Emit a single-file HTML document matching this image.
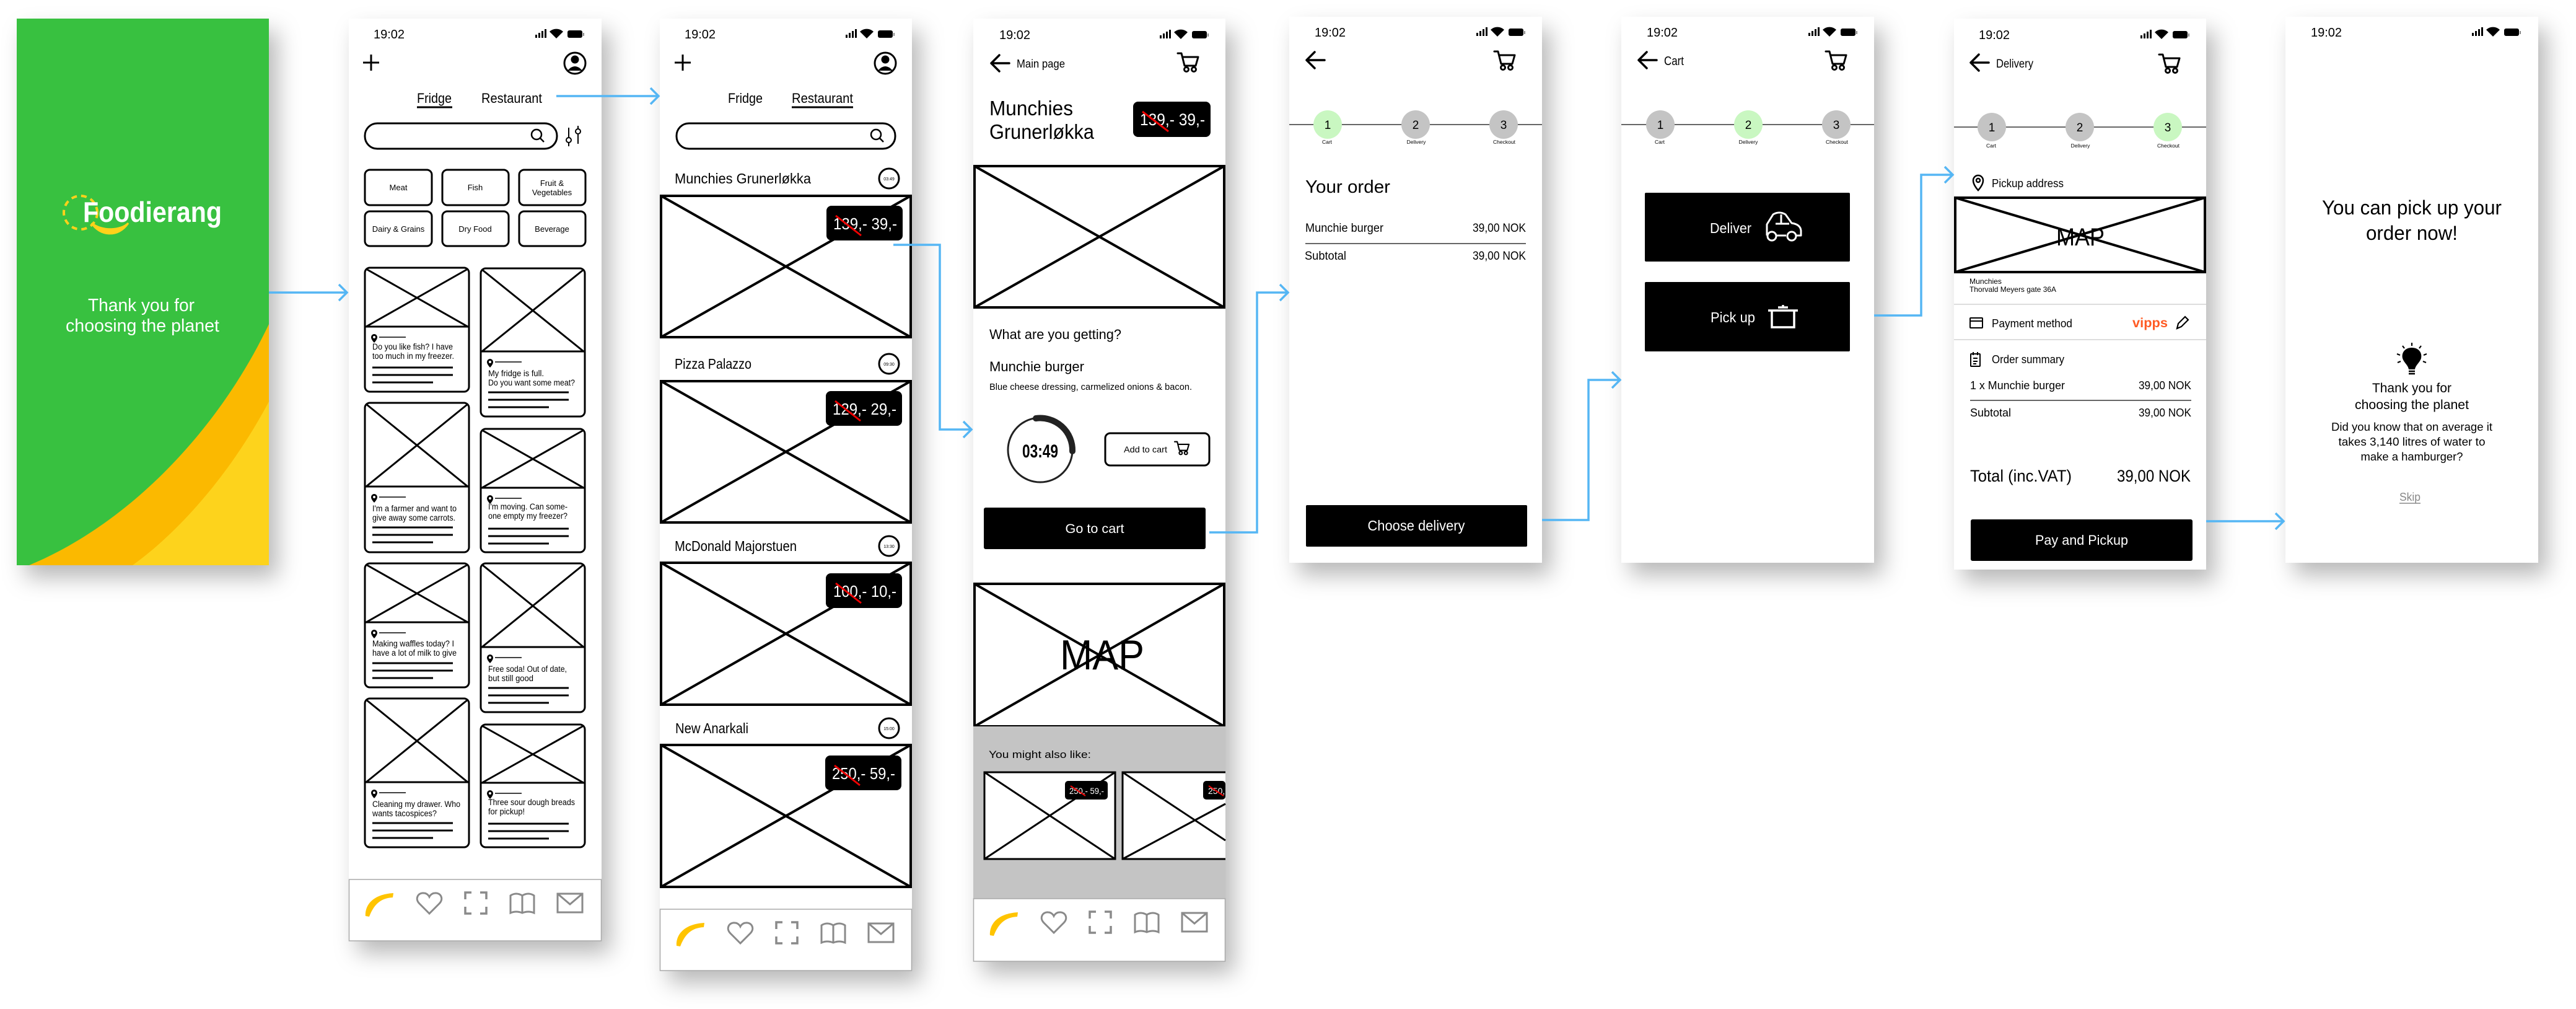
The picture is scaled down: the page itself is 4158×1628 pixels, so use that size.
<!DOCTYPE html>
<html><head><meta charset="utf-8"><style>
html,body{margin:0;padding:0;background:#fff;}
svg{display:block;}
text{font-family:"Liberation Sans",sans-serif;}
</style></head><body>
<svg width="4158" height="1628" viewBox="0 0 4158 1628" xmlns="http://www.w3.org/2000/svg">
<defs>
<filter id="sh" x="-20%" y="-10%" width="150%" height="130%"><feDropShadow dx="14" dy="20" stdDeviation="18" flood-color="#000" flood-opacity="0.28"/></filter>
<g id="stat">
 <rect x="0" y="1" width="3" height="5" fill="#000"/><rect x="5" y="-2" width="3" height="8" fill="#000"/><rect x="10" y="-5" width="3" height="11" fill="#000"/><rect x="15" y="-8" width="3" height="14" fill="#000"/>
 <path d="M34 7 L23 -4 A16 16 0 0 1 45 -4 Z" fill="#000"/>
 <rect x="52" y="-6" width="24" height="12" rx="3" fill="#000"/><rect x="77" y="-2" width="2" height="5" fill="#888"/>
</g>
<g id="cart" fill="none" stroke="#000" stroke-width="3" stroke-linejoin="round" stroke-linecap="round">
 <path d="M0 1 L6 1 L11 21 L29 21 L33 7 L8 7"/><circle cx="14" cy="27" r="3.5"/><circle cx="26" cy="27" r="3.5"/>
</g>
<g id="back" fill="none" stroke="#000" stroke-width="3.5" stroke-linecap="round" stroke-linejoin="round">
 <path d="M30 0 L1 0 M14 -13 L1 0 L14 13"/>
</g>
<g id="nav">
 <path d="M27 59 C26 42 38 24 72 22 L71 29 C50 30 40 42 33 60 Z" fill="#FFC400"/>
 <path d="M130 55 L114 39 C106 31 112 21 121 22 C126 22 129 26 130 28 C131 26 134 22 139 22 C148 21 154 31 146 39 Z" fill="none" stroke="#8a8a8a" stroke-width="3"/>
 <path d="M188 32 V21 H198 M212 21 H222 V32 M222 44 V55 H212 M198 55 H188 V44" fill="none" stroke="#8a8a8a" stroke-width="3.5"/>
 <path d="M261 26 Q270 20 280 26 Q290 20 299 26 V54 Q290 50 280 54 Q270 50 261 54 Z M280 26 V54" fill="none" stroke="#8a8a8a" stroke-width="3"/>
 <rect x="337" y="23" width="40" height="30" fill="none" stroke="#8a8a8a" stroke-width="3"/><path d="M337 23 L357 40 L377 23" fill="none" stroke="#8a8a8a" stroke-width="3"/>
</g>
<g id="pin"><path d="M0 -6 a5 5 0 0 1 5 5 c0 4 -5 9 -5 9 c0 0 -5 -5 -5 -9 a5 5 0 0 1 5 -5 z" fill="#000"/><circle cx="0" cy="-1" r="2" fill="#fff"/></g>
</defs>

<!-- ===== Splash ===== -->
<g filter="url(#sh)"><rect x="27" y="30" width="407" height="882" fill="#38C13F"/></g>
<path d="M434 523 C360 680 220 840 47 912 L434 912 Z" fill="#FBB900"/>
<path d="M434 648 C380 750 300 850 214 912 L434 912 Z" fill="#FDD31C"/>
<circle cx="130" cy="343" r="27" fill="none" stroke="#FFD21A" stroke-width="4" stroke-dasharray="9 7"/>
<text x="134" y="358" font-size="46" font-weight="bold" fill="#fff" textLength="224" lengthAdjust="spacingAndGlyphs">Foodierang</text>
<path d="M148 360 C160 380 190 385 207 360 C195 372 165 374 148 360 Z" fill="#FFD21A" stroke="#FFD21A" stroke-width="3"/>
<text x="228" y="502" font-size="29" fill="#fff" text-anchor="middle" textLength="172" lengthAdjust="spacingAndGlyphs">Thank you for</text>
<text x="230" y="535" font-size="29" fill="#fff" text-anchor="middle" textLength="248" lengthAdjust="spacingAndGlyphs">choosing the planet</text>

<!-- ===== Screen 2 Fridge ===== -->
<g filter="url(#sh)"><rect x="563" y="30" width="408" height="1488" fill="#fff"/></g>
<text x="603" y="62" font-size="20">19:02</text>
<use href="#stat" x="864" y="55"/>
<path d="M599 88 V114 M586 101 H612" stroke="#000" stroke-width="3"/>
<circle cx="928" cy="102" r="17" fill="none" stroke="#000" stroke-width="3"/><circle cx="928" cy="96" r="6.5" fill="#000"/><path d="M916 114 Q928 100 940 114 Z" fill="#000"/>
<text x="673" y="166" font-size="22" textLength="56" lengthAdjust="spacingAndGlyphs">Fridge</text>
<line x1="673" y1="173" x2="730" y2="173" stroke="#000" stroke-width="3"/>
<text x="777" y="166" font-size="22" textLength="98" lengthAdjust="spacingAndGlyphs">Restaurant</text>
<rect x="589" y="199" width="310" height="41" rx="20" fill="none" stroke="#000" stroke-width="3"/>
<circle cx="866" cy="217" r="8" fill="none" stroke="#000" stroke-width="2.5"/><line x1="872" y1="223" x2="878" y2="229" stroke="#000" stroke-width="2.5"/>
<path d="M918 206 V236 M933 203 V232" stroke="#000" stroke-width="2"/><circle cx="918" cy="226" r="4" fill="#fff" stroke="#000" stroke-width="2"/><circle cx="933" cy="212" r="4" fill="#fff" stroke="#000" stroke-width="2"/>
<g fill="none" stroke="#000" stroke-width="3">
<rect x="589" y="274" width="108" height="57" rx="8"/><rect x="714" y="274" width="107" height="57" rx="8"/><rect x="838" y="274" width="107" height="57" rx="8"/>
<rect x="589" y="341" width="108" height="56" rx="8"/><rect x="714" y="341" width="107" height="56" rx="8"/><rect x="838" y="341" width="107" height="56" rx="8"/>
</g>
<g font-size="13" text-anchor="middle">
<text x="643" y="307">Meat</text><text x="767" y="307">Fish</text><text x="891" y="300">Fruit &amp;</text><text x="891" y="315">Vegetables</text>
<text x="643" y="374">Dairy &amp; Grains</text><text x="767" y="374">Dry Food</text><text x="891" y="374">Beverage</text>
</g>
<!-- cards -->
<g fill="none" stroke="#000" stroke-width="3">
<!-- col1 -->
<rect x="589" y="432" width="168" height="200" rx="8"/><path d="M589 527 H757 M591 434 L755 527 M755 434 L591 527"/>
<rect x="589" y="650" width="168" height="241" rx="8"/><path d="M589 785 H757 M591 652 L755 785 M755 652 L591 785"/>
<rect x="589" y="909" width="168" height="200" rx="8"/><path d="M589 1004 H757 M591 911 L755 1004 M755 911 L591 1004"/>
<rect x="589" y="1127" width="168" height="240" rx="8"/><path d="M589 1262 H757 M591 1129 L755 1262 M755 1129 L591 1262"/>
<!-- col2 -->
<rect x="776" y="433" width="168" height="239" rx="8"/><path d="M776 567 H944 M778 435 L942 567 M942 435 L778 567"/>
<rect x="776" y="692" width="168" height="199" rx="8"/><path d="M776 787 H944 M778 694 L942 787 M942 694 L778 787"/>
<rect x="776" y="909" width="168" height="240" rx="8"/><path d="M776 1044 H944 M778 911 L942 1044 M942 911 L778 1044"/>
<rect x="776" y="1169" width="168" height="198" rx="8"/><path d="M776 1263 H944 M778 1171 L942 1263 M942 1171 L778 1263"/>
</g>
<g stroke="#000" stroke-width="3">
<path d="M601 593 H731 M601 605 H731 M601 617 H699"/>
<path d="M601 851 H731 M601 863 H731 M601 875 H699"/>
<path d="M601 1070 H731 M601 1082 H731 M601 1094 H699"/>
<path d="M601 1328 H731 M601 1340 H731 M601 1352 H699"/>
<path d="M788 633 H918 M788 645 H918 M788 657 H886"/>
<path d="M788 853 H918 M788 865 H918 M788 877 H886"/>
<path d="M788 1110 H918 M788 1122 H918 M788 1134 H886"/>
<path d="M788 1329 H918 M788 1341 H918 M788 1353 H886"/>
</g>
<g stroke="#000" stroke-width="1.5">
<path d="M612 544 H655 M612 802 H655 M612 1021 H655 M612 1279 H655 M799 584 H842 M799 804 H842 M799 1061 H842 M799 1280 H842"/>
</g>
<use href="#pin" x="604" y="545"/><use href="#pin" x="604" y="803"/><use href="#pin" x="604" y="1022"/><use href="#pin" x="604" y="1280"/>
<use href="#pin" x="791" y="585"/><use href="#pin" x="791" y="805"/><use href="#pin" x="791" y="1062"/><use href="#pin" x="791" y="1281"/>
<g font-size="13.5">
<text x="601" y="564" textLength="130" lengthAdjust="spacingAndGlyphs">Do you like fish? I have</text><text x="601" y="579" textLength="132" lengthAdjust="spacingAndGlyphs">too much in my freezer.</text>
<text x="601" y="825" textLength="136" lengthAdjust="spacingAndGlyphs">I'm a farmer and want to</text><text x="601" y="840" textLength="134" lengthAdjust="spacingAndGlyphs">give away some carrots.</text>
<text x="601" y="1043" textLength="132" lengthAdjust="spacingAndGlyphs">Making waffles today? I</text><text x="601" y="1058" textLength="136" lengthAdjust="spacingAndGlyphs">have a lot of milk to give</text>
<text x="601" y="1302" textLength="142" lengthAdjust="spacingAndGlyphs">Cleaning my drawer. Who</text><text x="601" y="1317" textLength="104" lengthAdjust="spacingAndGlyphs">wants tacospices?</text>
<text x="788" y="607" textLength="90" lengthAdjust="spacingAndGlyphs">My fridge is full.</text><text x="788" y="622" textLength="140" lengthAdjust="spacingAndGlyphs">Do you want some meat?</text>
<text x="788" y="822" textLength="128" lengthAdjust="spacingAndGlyphs">I'm moving. Can some-</text><text x="788" y="837" textLength="128" lengthAdjust="spacingAndGlyphs">one empty my freezer?</text>
<text x="788" y="1084" textLength="127" lengthAdjust="spacingAndGlyphs">Free soda! Out of date,</text><text x="788" y="1099" textLength="73" lengthAdjust="spacingAndGlyphs">but still good</text>
<text x="788" y="1299" textLength="140" lengthAdjust="spacingAndGlyphs">Three sour dough breads</text><text x="788" y="1314" textLength="59" lengthAdjust="spacingAndGlyphs">for pickup!</text>
</g>
<rect x="563.5" y="1419" width="407" height="99" fill="#fff" stroke="#aaa" stroke-width="1.5"/>
<use href="#nav" x="563" y="1419"/>

<!-- ===== Screen 3 Restaurant ===== -->
<g filter="url(#sh)"><rect x="1065" y="30" width="407" height="1536" fill="#fff"/></g>
<text x="1105" y="62" font-size="20">19:02</text>
<use href="#stat" x="1365" y="55"/>
<path d="M1102 88 V114 M1089 101 H1115" stroke="#000" stroke-width="3"/>
<circle cx="1429" cy="102" r="17" fill="none" stroke="#000" stroke-width="3"/><circle cx="1429" cy="96" r="6.5" fill="#000"/><path d="M1417 114 Q1429 100 1441 114 Z" fill="#000"/>
<text x="1175" y="166" font-size="22" textLength="56" lengthAdjust="spacingAndGlyphs">Fridge</text>
<text x="1278" y="166" font-size="22" textLength="99" lengthAdjust="spacingAndGlyphs">Restaurant</text>
<line x1="1278" y1="173" x2="1377" y2="173" stroke="#000" stroke-width="3"/>
<rect x="1092" y="199" width="353" height="41" rx="20" fill="none" stroke="#000" stroke-width="3"/>
<circle cx="1414" cy="217" r="8" fill="none" stroke="#000" stroke-width="2.5"/><line x1="1420" y1="223" x2="1426" y2="229" stroke="#000" stroke-width="2.5"/>
<g font-size="23">
<text x="1089" y="296" textLength="220" lengthAdjust="spacingAndGlyphs">Munchies Grunerløkka</text>
<text x="1089" y="595" textLength="124" lengthAdjust="spacingAndGlyphs">Pizza Palazzo</text>
<text x="1089" y="889" textLength="197" lengthAdjust="spacingAndGlyphs">McDonald Majorstuen</text>
<text x="1090" y="1183" textLength="118" lengthAdjust="spacingAndGlyphs">New Anarkali</text>
</g>
<g fill="none" stroke="#000" stroke-width="3">
<circle cx="1435" cy="288" r="16"/><circle cx="1435" cy="587" r="16"/><circle cx="1435" cy="881" r="16"/><circle cx="1435" cy="1175" r="16"/>
</g>
<g font-size="7" text-anchor="middle"><text x="1435" y="291">03:49</text><text x="1435" y="590">09:30</text><text x="1435" y="884">13:30</text><text x="1435" y="1178">15:00</text></g>
<g fill="none" stroke="#000" stroke-width="4">
<rect x="1067" y="316" width="403" height="228"/><path d="M1067 316 L1470 544 M1470 316 L1067 544"/>
<rect x="1067" y="615" width="403" height="228"/><path d="M1067 615 L1470 843 M1470 615 L1067 843"/>
<rect x="1067" y="908" width="403" height="229"/><path d="M1067 908 L1470 1137 M1470 908 L1067 1137"/>
<rect x="1067" y="1202" width="403" height="229"/><path d="M1067 1202 L1470 1431 M1470 1202 L1067 1431"/>
</g>
<g>
<rect x="1334" y="332" width="123" height="56" rx="8" fill="#000"/><text x="1345" y="370" font-size="26" fill="#fff" textLength="103" lengthAdjust="spacingAndGlyphs">139,- 39,-</text><line x1="1349" y1="348" x2="1390" y2="380" stroke="#e00" stroke-width="3"/>
<rect x="1333" y="631" width="123" height="56" rx="8" fill="#000"/><text x="1344" y="669" font-size="26" fill="#fff" textLength="103" lengthAdjust="spacingAndGlyphs">129,- 29,-</text><line x1="1348" y1="647" x2="1389" y2="679" stroke="#e00" stroke-width="3"/>
<rect x="1333" y="925" width="123" height="56" rx="8" fill="#000"/><text x="1345" y="963" font-size="26" fill="#fff" textLength="102" lengthAdjust="spacingAndGlyphs">100,- 10,-</text><line x1="1349" y1="941" x2="1390" y2="973" stroke="#e00" stroke-width="3"/>
<rect x="1332" y="1219" width="123" height="56" rx="8" fill="#000"/><text x="1343" y="1257" font-size="26" fill="#fff" textLength="102" lengthAdjust="spacingAndGlyphs">250,- 59,-</text><line x1="1347" y1="1235" x2="1388" y2="1267" stroke="#e00" stroke-width="3"/>
</g>
<rect x="1065.5" y="1467" width="406" height="99" fill="#fff" stroke="#aaa" stroke-width="1.5"/>
<use href="#nav" x="1065" y="1467"/>

<!-- ===== Screen 4 detail ===== -->
<g filter="url(#sh)"><rect x="1571" y="30" width="407" height="1521" fill="#fff"/></g>
<text x="1613" y="63" font-size="20">19:02</text>
<use href="#stat" x="1872" y="56"/>
<use href="#back" x="1599" y="102"/>
<text x="1641" y="109" font-size="18" textLength="78" lengthAdjust="spacingAndGlyphs">Main page</text>
<use href="#cart" x="1901" y="85"/>
<text x="1597" y="186" font-size="33" font-weight="500" textLength="135" lengthAdjust="spacingAndGlyphs">Munchies</text>
<text x="1597" y="224" font-size="33" textLength="169" lengthAdjust="spacingAndGlyphs">Grunerløkka</text>
<rect x="1829" y="164" width="125" height="57" rx="8" fill="#000"/>
<text x="1840" y="202" font-size="27" fill="#fff" textLength="105" lengthAdjust="spacingAndGlyphs">139,- 39,-</text>
<line x1="1844" y1="180" x2="1886" y2="212" stroke="#e00" stroke-width="3"/>
<g fill="none" stroke="#000" stroke-width="4"><rect x="1573" y="268" width="403" height="228"/><path d="M1573 268 L1976 496 M1976 268 L1573 496"/></g>
<text x="1597" y="547" font-size="22" textLength="213" lengthAdjust="spacingAndGlyphs">What are you getting?</text>
<text x="1597" y="599" font-size="22" textLength="153" lengthAdjust="spacingAndGlyphs">Munchie burger</text>
<text x="1597" y="629" font-size="15" textLength="327" lengthAdjust="spacingAndGlyphs">Blue cheese dressing, carmelized onions &amp; bacon.</text>
<circle cx="1679" cy="726" r="52" fill="none" stroke="#222" stroke-width="3"/>
<path d="M1672 675 A52 52 0 0 1 1731 728" fill="none" stroke="#222" stroke-width="10" stroke-linecap="round"/>
<text x="1679" y="738" font-size="30" font-weight="bold" text-anchor="middle" textLength="58" lengthAdjust="spacingAndGlyphs">03:49</text>
<rect x="1784" y="699" width="168" height="52" rx="8" fill="none" stroke="#000" stroke-width="3"/>
<text x="1814" y="730" font-size="14" textLength="70" lengthAdjust="spacingAndGlyphs">Add to cart</text>
<g transform="translate(1896 712) scale(0.7)"><use href="#cart"/></g>
<rect x="1588" y="819" width="358" height="67" rx="3" fill="#000"/>
<text x="1767" y="860" font-size="21" fill="#fff" text-anchor="middle" textLength="95" lengthAdjust="spacingAndGlyphs">Go to cart</text>
<g fill="none" stroke="#000" stroke-width="4"><rect x="1573" y="942" width="403" height="230"/><path d="M1573 942 L1976 1172 M1976 942 L1573 1172"/></g>
<text x="1779" y="1080" font-size="68" text-anchor="middle" textLength="136" lengthAdjust="spacingAndGlyphs">MAP</text>
<rect x="1571" y="1172" width="407" height="278" fill="#c4c4c4"/>
<text x="1596" y="1223" font-size="17" textLength="165" lengthAdjust="spacingAndGlyphs">You might also like:</text>
<g fill="#fff" stroke="#000" stroke-width="3">
<rect x="1589" y="1246" width="211" height="140"/><path d="M1589 1246 L1800 1386 M1800 1246 L1589 1386" fill="none"/>
<path d="M1978 1246 H1812 V1386 H1978" /><path d="M1812 1246 L1978 1356 M1978 1297 L1812 1386" fill="none"/>
</g>
<rect x="1719" y="1260" width="69" height="30" rx="5" fill="#000"/>
<text x="1726" y="1281" font-size="14" fill="#fff" textLength="56" lengthAdjust="spacingAndGlyphs">250,- 59,-</text>
<line x1="1728" y1="1268" x2="1752" y2="1284" stroke="#e00" stroke-width="2"/>
<rect x="1942" y="1260" width="36" height="30" rx="5" fill="#000"/>
<text x="1950" y="1281" font-size="14" fill="#fff">250,</text>
<line x1="1951" y1="1268" x2="1975" y2="1284" stroke="#e00" stroke-width="2"/>
<rect x="1571.5" y="1450" width="406" height="101" fill="#fff" stroke="#aaa" stroke-width="1.5"/>
<use href="#nav" x="1571" y="1450"/>

<!-- ===== Screen 5 Cart ===== -->
<g filter="url(#sh)"><rect x="2081" y="27" width="408" height="881" fill="#fff"/></g>
<text x="2122" y="59" font-size="20">19:02</text>
<use href="#stat" x="2383" y="52"/>
<use href="#back" x="2108" y="97"/>
<use href="#cart" x="2412" y="82"/>
<line x1="2081" y1="201" x2="2489" y2="201" stroke="#333" stroke-width="1.5"/>
<circle cx="2143" cy="201" r="23" fill="#C9F7C1"/><circle cx="2285" cy="201" r="23" fill="#c4c4c4"/><circle cx="2427" cy="201" r="23" fill="#c4c4c4"/>
<g font-size="19" text-anchor="middle"><text x="2143" y="208">1</text><text x="2285" y="208">2</text><text x="2427" y="208">3</text></g>
<g font-size="8.5" text-anchor="middle"><text x="2142" y="232">Cart</text><text x="2286" y="232">Delivery</text><text x="2428" y="232">Checkout</text></g>
<text x="2107" y="311" font-size="29" textLength="137" lengthAdjust="spacingAndGlyphs">Your order</text>
<text x="2107" y="374" font-size="19" textLength="126" lengthAdjust="spacingAndGlyphs">Munchie burger</text>
<text x="2463" y="374" font-size="19" text-anchor="end" textLength="86" lengthAdjust="spacingAndGlyphs">39,00 NOK</text>
<line x1="2107" y1="393" x2="2463" y2="393" stroke="#333" stroke-width="1.5"/>
<text x="2106" y="419" font-size="19" textLength="67" lengthAdjust="spacingAndGlyphs">Subtotal</text>
<text x="2463" y="419" font-size="19" text-anchor="end" textLength="86" lengthAdjust="spacingAndGlyphs">39,00 NOK</text>
<rect x="2108" y="815" width="357" height="67" rx="2" fill="#000"/>
<text x="2286" y="856" font-size="23" fill="#fff" text-anchor="middle" textLength="157" lengthAdjust="spacingAndGlyphs">Choose delivery</text>

<!-- ===== Screen 6 Delivery ===== -->
<g filter="url(#sh)"><rect x="2617" y="27" width="408" height="881" fill="#fff"/></g>
<text x="2658" y="59" font-size="20">19:02</text>
<use href="#stat" x="2919" y="52"/>
<use href="#back" x="2644" y="97"/>
<text x="2686" y="105" font-size="20" textLength="32" lengthAdjust="spacingAndGlyphs">Cart</text>
<use href="#cart" x="2947" y="82"/>
<line x1="2617" y1="201" x2="3025" y2="201" stroke="#333" stroke-width="1.5"/>
<circle cx="2680" cy="201" r="23" fill="#c4c4c4"/><circle cx="2822" cy="201" r="23" fill="#C9F7C1"/><circle cx="2964" cy="201" r="23" fill="#c4c4c4"/>
<g font-size="19" text-anchor="middle"><text x="2680" y="208">1</text><text x="2822" y="208">2</text><text x="2964" y="208">3</text></g>
<g font-size="8.5" text-anchor="middle"><text x="2679" y="232">Cart</text><text x="2822" y="232">Delivery</text><text x="2965" y="232">Checkout</text></g>
<rect x="2655" y="311" width="331" height="111" rx="2" fill="#000"/>
<text x="2760" y="376" font-size="23" fill="#fff" textLength="67" lengthAdjust="spacingAndGlyphs">Deliver</text>
<g fill="none" stroke="#fff" stroke-width="3" stroke-linejoin="round">
<path d="M2852 380 V362 L2862 346 Q2872 340 2882 346 L2892 360 Q2906 362 2907 372 V380 H2900 M2883 380 H2868"/>
<circle cx="2860" cy="381" r="7"/><circle cx="2892" cy="381" r="7"/><path d="M2866 361 H2888 M2875 346 V361"/>
</g>
<rect x="2655" y="455" width="331" height="112" rx="2" fill="#000"/>
<text x="2761" y="520" font-size="23" fill="#fff" textLength="72" lengthAdjust="spacingAndGlyphs">Pick up</text>
<g fill="none" stroke="#fff" stroke-width="3.5"><path d="M2854 501 H2902 M2860 501 V528 H2896 V501 M2870 496 H2886 M2878 492 V496"/></g>

<!-- ===== Screen 7 Checkout ===== -->
<g filter="url(#sh)"><rect x="3154" y="30" width="407" height="889" fill="#fff"/></g>
<text x="3194" y="63" font-size="20">19:02</text>
<use href="#stat" x="3455" y="56"/>
<use href="#back" x="3180" y="101"/>
<text x="3222" y="109" font-size="19" textLength="60" lengthAdjust="spacingAndGlyphs">Delivery</text>
<use href="#cart" x="3485" y="87"/>
<line x1="3154" y1="205" x2="3561" y2="205" stroke="#333" stroke-width="1.5"/>
<circle cx="3215" cy="205" r="23" fill="#c4c4c4"/><circle cx="3357" cy="205" r="23" fill="#c4c4c4"/><circle cx="3499" cy="205" r="23" fill="#C9F7C1"/>
<g font-size="19" text-anchor="middle"><text x="3215" y="212">1</text><text x="3357" y="212">2</text><text x="3499" y="212">3</text></g>
<g font-size="8.5" text-anchor="middle"><text x="3214" y="238">Cart</text><text x="3358" y="238">Delivery</text><text x="3500" y="238">Checkout</text></g>
<g fill="none" stroke="#000" stroke-width="2.5"><path d="M3193 307 C3185 298 3185 293 3185 291 A8 8 0 0 1 3201 291 C3201 293 3201 298 3193 307 Z"/><circle cx="3193" cy="291" r="3"/></g>
<text x="3215" y="302" font-size="18" textLength="116" lengthAdjust="spacingAndGlyphs">Pickup address</text>
<g fill="none" stroke="#000" stroke-width="4"><rect x="3156" y="319" width="403" height="120"/><path d="M3156 319 L3559 439 M3559 319 L3156 439"/></g>
<text x="3358" y="396" font-size="40" text-anchor="middle" textLength="78" lengthAdjust="spacingAndGlyphs">MAP</text>
<text x="3179" y="458" font-size="12" textLength="52" lengthAdjust="spacingAndGlyphs">Munchies</text>
<text x="3179" y="471" font-size="12" textLength="140" lengthAdjust="spacingAndGlyphs">Thorvald Meyers gate 36A</text>
<line x1="3154" y1="491" x2="3561" y2="491" stroke="#ddd" stroke-width="2"/>
<g fill="none" stroke="#000" stroke-width="2"><rect x="3180" y="513" width="20" height="16" rx="1"/><path d="M3180 518 H3200"/></g>
<text x="3215" y="528" font-size="18" textLength="130" lengthAdjust="spacingAndGlyphs">Payment method</text>
<text x="3442" y="528" font-size="21" font-weight="bold" fill="#FF5B24" textLength="57" lengthAdjust="spacingAndGlyphs">vipps</text>
<path d="M3514 530 L3516 522 L3527 511 L3532 516 L3521 527 Z" fill="none" stroke="#000" stroke-width="2.2"/>
<line x1="3154" y1="548" x2="3561" y2="548" stroke="#ddd" stroke-width="2"/>
<g fill="none" stroke="#000" stroke-width="2"><rect x="3181" y="571" width="15" height="20" rx="1"/><path d="M3185 568 V573 M3192 568 V573 M3185 578 H3192 M3185 583 H3192 M3185 587 H3190"/></g>
<text x="3215" y="586" font-size="18" textLength="117" lengthAdjust="spacingAndGlyphs">Order summary</text>
<text x="3180" y="628" font-size="18" textLength="153" lengthAdjust="spacingAndGlyphs">1 x Munchie burger</text>
<text x="3537" y="628" font-size="18" text-anchor="end" textLength="85" lengthAdjust="spacingAndGlyphs">39,00 NOK</text>
<line x1="3180" y1="646" x2="3537" y2="646" stroke="#333" stroke-width="1.5"/>
<text x="3180" y="672" font-size="18" textLength="66" lengthAdjust="spacingAndGlyphs">Subtotal</text>
<text x="3537" y="672" font-size="18" text-anchor="end" textLength="85" lengthAdjust="spacingAndGlyphs">39,00 NOK</text>
<text x="3180" y="777" font-size="27" textLength="164" lengthAdjust="spacingAndGlyphs">Total (inc.VAT)</text>
<text x="3536" y="777" font-size="27" text-anchor="end" textLength="119" lengthAdjust="spacingAndGlyphs">39,00 NOK</text>
<rect x="3181" y="838" width="358" height="67" rx="3" fill="#000"/>
<text x="3360" y="879" font-size="22" fill="#fff" text-anchor="middle" textLength="150" lengthAdjust="spacingAndGlyphs">Pay and Pickup</text>

<!-- ===== Screen 8 Done ===== -->
<g filter="url(#sh)"><rect x="3689" y="27" width="408" height="881" fill="#fff"/></g>
<text x="3730" y="59" font-size="20">19:02</text>
<use href="#stat" x="3990" y="52"/>
<text x="3893" y="346" font-size="32" text-anchor="middle" textLength="290" lengthAdjust="spacingAndGlyphs">You can pick up your</text>
<text x="3893" y="387" font-size="32" text-anchor="middle" textLength="148" lengthAdjust="spacingAndGlyphs">order now!</text>
<g>
<path d="M3893 561 C3882 561 3876 569 3878 578 C3880 585 3887 589 3888 596 H3898 C3899 589 3906 585 3908 578 C3910 569 3904 561 3893 561 Z" fill="#000"/>
<path d="M3888 599 H3898 M3888 603 H3898" stroke="#000" stroke-width="2.5"/>
<path d="M3893 553 V558 M3878 558 L3881 562 M3908 558 L3905 562 M3869 571 L3874 573 M3917 571 L3912 573 M3870 585 L3875 583 M3916 585 L3911 583" stroke="#000" stroke-width="2.2"/>
</g>
<text x="3893" y="633" font-size="21" font-weight="500" text-anchor="middle" textLength="128" lengthAdjust="spacingAndGlyphs">Thank you for</text>
<text x="3893" y="660" font-size="21" text-anchor="middle" textLength="184" lengthAdjust="spacingAndGlyphs">choosing the planet</text>
<text x="3893" y="695" font-size="18" text-anchor="middle" textLength="260" lengthAdjust="spacingAndGlyphs">Did you know that on average it</text>
<text x="3893" y="719" font-size="18" text-anchor="middle" textLength="237" lengthAdjust="spacingAndGlyphs">takes 3,140 litres of water to</text>
<text x="3893" y="743" font-size="18" text-anchor="middle" textLength="165" lengthAdjust="spacingAndGlyphs">make a hamburger?</text>
<text x="3890" y="808" font-size="18" fill="#888" text-anchor="middle" textLength="34" lengthAdjust="spacingAndGlyphs">Skip</text>
<line x1="3873" y1="812" x2="3907" y2="812" stroke="#888" stroke-width="1.5"/>

<!-- ===== Connectors ===== -->
<g fill="none" stroke="#55B6F4" stroke-width="3.5" stroke-linejoin="miter">
<path d="M434 472 H560 M547 459 L560 472 L547 485"/>
<path d="M898 155 H1063 M1050 142 L1063 155 L1050 168"/>
<path d="M1442 395 H1517 V693 H1568 M1555 680 L1568 693 L1555 706"/>
<path d="M1952 859 H2029 V472 H2079 M2066 459 L2079 472 L2066 485"/>
<path d="M2489 839 H2564 V613 H2615 M2602 600 L2615 613 L2602 626"/>
<path d="M3025 509 H3101 V282 H3152 M3139 269 L3152 282 L3139 295"/>
<path d="M3561 841 H3686 M3673 828 L3686 841 L3673 854"/>
</g>
</svg>
</body></html>
